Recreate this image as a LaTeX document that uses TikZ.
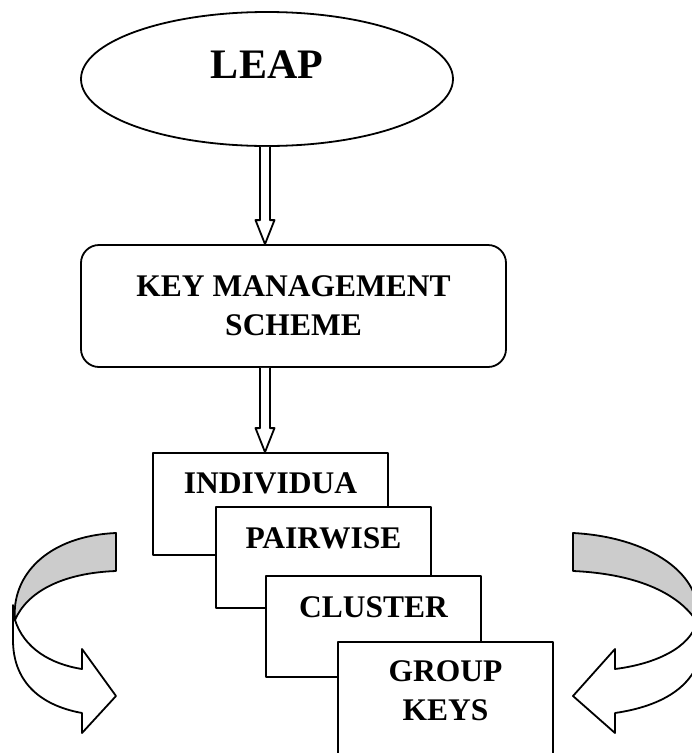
\documentclass[tikz,border=0pt]{standalone}
\usepackage{fontspec}
\setmainfont{Liberation Serif}
\usetikzlibrary{shapes,calc}

% hollow down arrow between two points
\newcommand{\hollowdown}[2]{%
  \draw[fill=white] ($(#1)+(-5,0)$) -- ($(#2)+(-5,-24)$) -- ($(#2)+(-9.5,-24)$) -- (#2)
    -- ($(#2)+(9.5,-24)$) -- ($(#2)+(5,-24)$) -- ($(#1)+(5,0)$);
}

\begin{document}
\begin{tikzpicture}[x=1pt,y=-1pt,line width=1.8pt,line join=round,font=\bfseries\fontsize{31.5}{39}\selectfont]
        \tikzstyle{card}=[draw, fill=white, rectangle, inner sep=0pt]
        \useasboundingbox (0,0) rectangle (692,753);

        \node[ellipse, draw, inner sep=0pt, minimum width=372, minimum height=134, text height=30pt, text depth=32pt, font=\bfseries\fontsize{42}{48}\selectfont] (leap) at (267,79) {LEAP};
        \node[draw, rounded corners=18pt, minimum width=425, minimum height=122, align=center] (kms) at (293.5,306) {KEY MANAGEMENT\\SCHEME};

        \node[card, minimum width=235, text height=40pt, text depth=62pt] (ind) at (270.5,504) {INDIVIDUA};
        \node[card, minimum width=215, text height=41pt, text depth=60pt] (pair) at (323.5,557.5) {PAIRWISE};
        \node[card, minimum width=215, text height=41pt, text depth=60pt] (clus) at (373.5,626.5) {CLUSTER};
        \node[card, minimum width=215, minimum height=140, anchor=north] (grp) at (445.5,641) {};
        \node[align=center, anchor=base] (grptxt) at (grp.north |- 0,720) {GROUP\\KEYS};

        \coordinate (axis) at (265,0);
        \hollowdown{axis |- leap.south}{axis |- kms.north}
        \hollowdown{axis |- kms.south}{axis |- ind.north}

        % curved arrow, left side
        \draw[fill=white] (15,620) .. controls (24,648) and (50,664) .. (82,669) -- (82,649) -- (116,696) -- (82,733) -- (82,713)
            .. controls (38,705) and (13,680) .. (13,640) -- (13,605) -- cycle;
        \draw[fill=gray!40] (116,533) -- (116,571) .. controls (62,573) and (27,592) .. (15,620)
            .. controls (11,575) and (48,536) .. (116,533) -- cycle;

        % curved arrow, right side
        \draw[fill=white] (697,622) .. controls (690,648) and (655,664) .. (615,669) -- (615,649) -- (573,696) -- (615,733) -- (615,713)
            .. controls (670,705) and (702,680) .. (702,640) -- (702,610) -- cycle;
        \draw[fill=gray!40] (573,533) -- (573,571) .. controls (640,574) and (680,595) .. (697,622)
            .. controls (705,575) and (650,537) .. (573,533) -- cycle;

\end{tikzpicture}
\end{document}
